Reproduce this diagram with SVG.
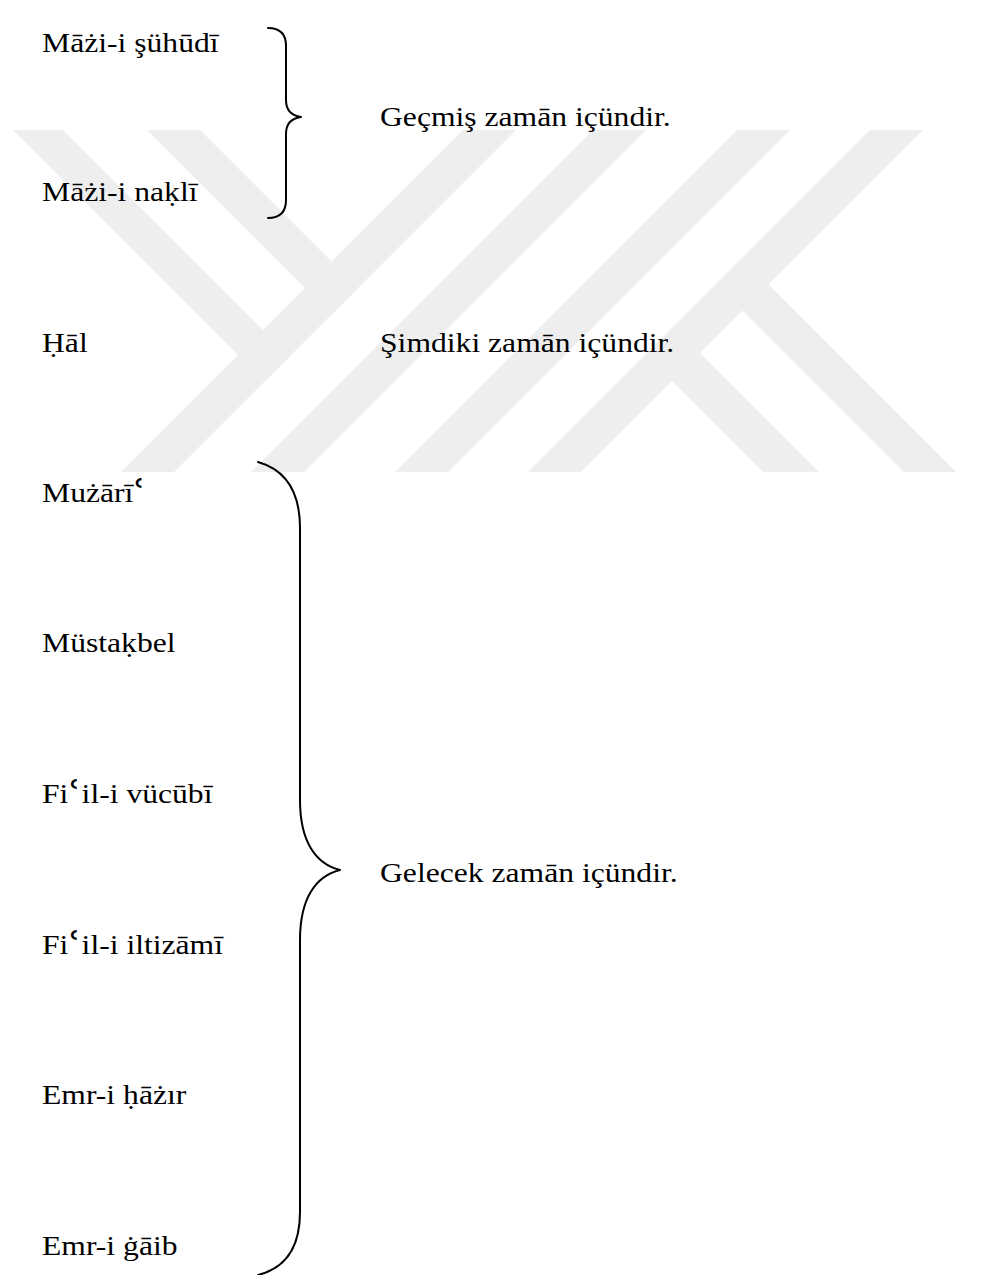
<svg xmlns="http://www.w3.org/2000/svg" width="984" height="1275" viewBox="0 0 984 1275">
<defs>
<style>
.wm{fill:#eeeeee;stroke:none}
.t{font-family:"Liberation Serif","DejaVu Serif",serif;font-size:28px;fill:#000}
.ay{font-family:"DejaVu Serif",serif;font-size:38px}
.br{fill:none;stroke:#000;stroke-width:2;stroke-linecap:round;stroke-linejoin:round}
</style>
<clipPath id="wmclip"><rect x="0" y="130" width="984" height="342"/></clipPath>
</defs>
<rect width="984" height="1275" fill="#fff"/>
<g id="watermark" clip-path="url(#wmclip)">
<polygon class="wm" points="13,130 63,130 289.5,356.5 264.5,381.5"/>
<polygon class="wm" points="147,130 200,130 358,288 331.5,314.5"/>
<polygon class="wm" points="463,130 516,130 174,472 121,472"/>
<polygon class="wm" points="593,130 646,130 304,472 251,472"/>
<polygon class="wm" points="737,130 790,130 448,472 395,472"/>
<polygon class="wm" points="870,130 923,130 581,472 528,472"/>
<polygon class="wm" points="742,258 956,472 904,472 716,284"/>
<polygon class="wm" points="673.5,326.5 819,472 763,472 645.5,354.5"/>
</g>
<g id="connectors">
<path id="brace-past" class="br" d="M 268 28 Q 286 28 286 46 L 286 100 Q 286 115 301 117 Q 286 119 286 134 L 286 200 Q 286 218 268 218"/>
<path id="brace-future" class="br" d="M 258 462 C 286 470 300 492 300 528 L 300 800 C 300 842 316 864 340 870 C 316 876 300 898 300 940 L 300 1212 C 300 1248 286 1268 258 1275"/>
</g>
<g transform="scale(1.13 1)">
<g id="n-mazi-suhudi"><text class="t" x="37.2" y="52">Māżi-i şühūdī</text></g>
<g id="n-mazi-nakli"><text class="t" x="37.2" y="201">Māżi-i naḳlī</text></g>
<g id="n-past"><text class="t" x="336.3" y="126">Geçmiş zamān içündir.</text></g>
<g id="n-hal"><text class="t" x="37.2" y="352">Ḥāl</text></g>
<g id="n-present"><text class="t" x="336.3" y="352">Şimdiki zamān içündir.</text></g>
<g id="n-muzari"><text class="t" x="37.2" y="502">Mużārī<tspan class="ay" dy="4">ʿ</tspan></text></g>
<g id="n-mustakbel"><text class="t" x="37.2" y="652">Müstaḳbel</text></g>
<g id="n-vucubi"><text class="t" x="37.2" y="803">Fi<tspan class="ay" dy="4">ʿ</tspan><tspan dy="-4">il-i vücūbī</tspan></text></g>
<g id="n-future"><text class="t" x="336.3" y="882">Gelecek zamān içündir.</text></g>
<g id="n-iltizami"><text class="t" x="37.2" y="954">Fi<tspan class="ay" dy="4">ʿ</tspan><tspan dy="-4">il-i iltizāmī</tspan></text></g>
<g id="n-emr-hazir"><text class="t" x="37.2" y="1104">Emr-i ḥāżır</text></g>
<g id="n-emr-gaib"><text class="t" x="37.2" y="1255">Emr-i ġāib</text></g>
</g>
</svg>
